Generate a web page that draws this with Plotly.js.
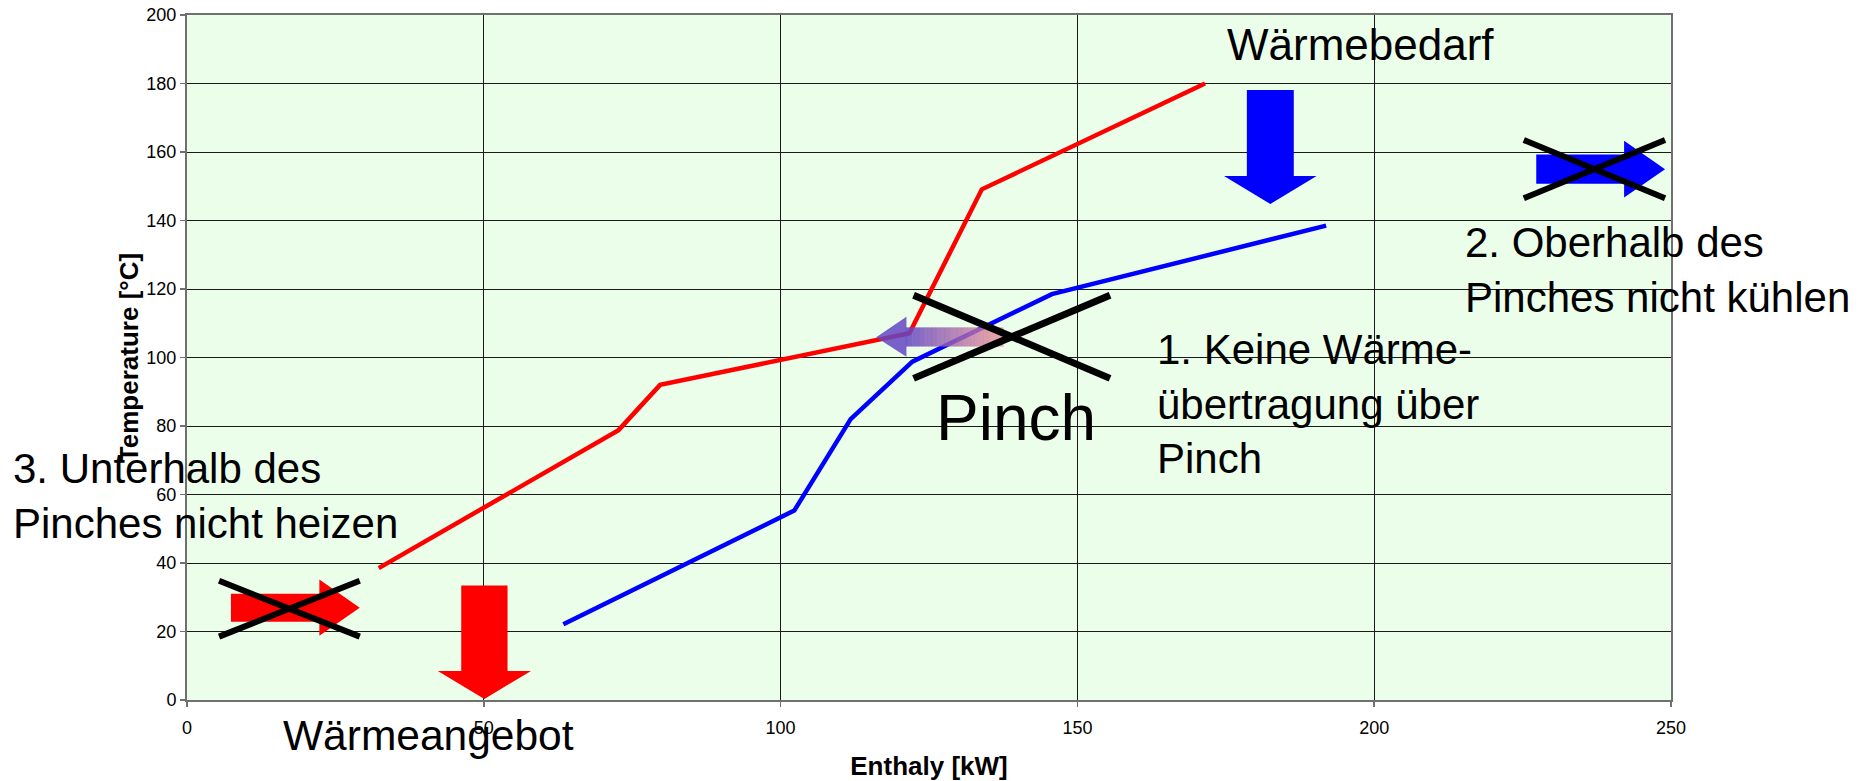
<!DOCTYPE html>
<html>
<head>
<meta charset="utf-8">
<script src="https://cdn.plot.ly/plotly-3.0.1.min.js"></script>
<style>
html,body{margin:0;padding:0;background:#fff;}
#chart{width:1862px;height:781px;}
</style>
</head>
<body>
<div id="chart"></div>
<script>
// ---- data ----
const hotEnthalpy  = [32.3, 72.7, 79.7, 121.7, 133.9, 171.5];
const hotTemp      = [38.5, 78.8, 92.0, 107.1, 149.1, 180.0];
const coldEnthalpy = [63.4, 102.3, 111.8, 122.2, 145.7, 191.9];
const coldTemp     = [22.1, 55.3, 82.0, 98.8, 118.5, 138.5];
const xTicks = [0, 50, 100, 150, 200, 250];
const yTicks = [0, 20, 40, 60, 80, 100, 120, 140, 160, 180, 200];

const FONT = 'Liberation Sans, Arial, sans-serif';

// ---- decoration helpers (annotation shapes) ----
function downArrow(xc, shaftHalf, headHalf, yTop, yShaft, yTip) {
  return `M ${xc-shaftHalf},${yTop} L ${xc+shaftHalf},${yTop} L ${xc+shaftHalf},${yShaft} L ${xc+headHalf},${yShaft} L ${xc},${yTip} L ${xc-headHalf},${yShaft} L ${xc-shaftHalf},${yShaft} Z`;
}
function rightArrow(x0, xHead, xTip, yc, shaftHalf, headHalf) {
  return `M ${x0},${yc-shaftHalf} L ${xHead},${yc-shaftHalf} L ${xHead},${yc-headHalf} L ${xTip},${yc} L ${xHead},${yc+headHalf} L ${xHead},${yc+shaftHalf} L ${x0},${yc+shaftHalf} Z`;
}
function crossLines(x0, x1, y0, y1, w) {
  return [
    {type:'line', xref:'x', yref:'y', x0:x0, y0:y1, x1:x1, y1:y0, line:{color:'#000', width:w}},
    {type:'line', xref:'x', yref:'y', x0:x0, y0:y0, x1:x1, y1:y1, line:{color:'#000', width:w}}
  ];
}

const shapes = [];
// Wärmebedarf arrow (blue, down)
shapes.push({type:'path', xref:'x', yref:'y', path: downArrow(182.5, 3.95, 7.8, 178.1, 153.0, 144.8), fillcolor:'#0000ff', line:{width:0}});
// Wärmeangebot arrow (red, down)
shapes.push({type:'path', xref:'x', yref:'y', path: downArrow(50.1, 3.9, 7.85, 33.4, 8.5, 0.3), fillcolor:'#ff0000', line:{width:0}});
// crossed red right arrow
shapes.push({type:'path', xref:'x', yref:'y', path: rightArrow(7.4, 22.3, 29.1, 26.95, 4.1, 8.2), fillcolor:'#ff0000', line:{width:0}});
// crossed blue right arrow
shapes.push({type:'path', xref:'x', yref:'y', path: rightArrow(227.3, 242.1, 249.0, 155.0, 4.25, 8.3), fillcolor:'#0000ff', line:{width:0}});

// gradient arrow at the pinch (head + shaded shaft)
const c0 = [100, 70, 195], c1 = [235, 140, 145];
shapes.push({type:'path', xref:'x', yref:'y',
  path: `M 116.1,105.9 L 121.2,111.9 L 121.2,100.2 Z`,
  fillcolor:`rgba(${c0[0]},${c0[1]},${c0[2]},0.85)`, line:{width:0}});
const nSlices = 30, sx0 = 121.1, sx1 = 137.5;
for (let i = 0; i < nSlices; i++) {
  const t = i / (nSlices - 1);
  const r = Math.round(c0[0] + (c1[0]-c0[0])*t);
  const g = Math.round(c0[1] + (c1[1]-c0[1])*t);
  const b = Math.round(c0[2] + (c1[2]-c0[2])*t);
  const a = (0.85 - 0.1*t).toFixed(3);
  const xa = sx0 + (sx1 - sx0) * i / nSlices;
  const xb = sx0 + (sx1 - sx0) * (i + 1) / nSlices + 0.05;
  shapes.push({type:'rect', xref:'x', yref:'y', x0:xa, x1:xb, y0:103.2, y1:108.8,
    fillcolor:`rgba(${r},${g},${b},${a})`, line:{width:0}});
}

// crosses
shapes.push(...crossLines(5.4, 29.1, 18.5, 34.8, 6));
shapes.push(...crossLines(225.2, 249.0, 146.5, 163.5, 6));
shapes.push(...crossLines(122.4, 155.5, 93.9, 118.2, 7));

const annFont = (s) => ({family: FONT, size: s, color: '#000'});
const annotations = [
  {xref:'x', yref:'y', x:174.9, y:191.4, xanchor:'left', yanchor:'middle', align:'left', showarrow:false, text:'Wärmebedarf', font:annFont(44)},
  {xref:'paper', yref:'paper', x:0.0635, y:-0.0525, xanchor:'left', yanchor:'middle', align:'left', showarrow:false, text:'Wärmeangebot', font:annFont(42.5)},
  {xref:'x', yref:'y', x:125.9, y:82.2, xanchor:'left', yanchor:'middle', align:'left', showarrow:false, text:'Pinch', font:annFont(64)},
  {xref:'x', yref:'y', x:163.1, y:86.5, xanchor:'left', yanchor:'middle', align:'left', showarrow:false, text:'1. Keine Wärme-<br>übertragung über<br>Pinch', font:annFont(42)},
  {xref:'x', yref:'y', x:215.0, y:125.5, xanchor:'left', yanchor:'middle', align:'left', showarrow:false, text:'2. Oberhalb des<br>Pinches nicht kühlen', font:annFont(42)},
  {xref:'paper', yref:'paper', x:-0.1186, y:0.2975, xanchor:'left', yanchor:'middle', align:'left', showarrow:false, text:'3. Unterhalb des<br>Pinches nicht heizen', font:annFont(42)}
];

const traces = [
  {x: hotEnthalpy, y: hotTemp, type:'scatter', mode:'lines', name:'hot', line:{color:'#ff0000', width:4.5}, hoverinfo:'skip'},
  {x: coldEnthalpy, y: coldTemp, type:'scatter', mode:'lines', name:'cold', line:{color:'#0000ff', width:4.5}, hoverinfo:'skip'}
];

const layout = {
  width: 1862, height: 781,
  margin: {l:187, r:191, t:15, b:81, pad:0},
  paper_bgcolor: '#ffffff',
  plot_bgcolor: '#eafeea',
  showlegend: false,
  font: {family: FONT, color:'#000'},
  xaxis: {
    range: [0, 250], tickvals: xTicks, ticktext: xTicks.map(String),
    showgrid: true, gridcolor: '#1a1a1a', gridwidth: 1,
    zeroline: false, showline: true, linecolor: '#707070', linewidth: 2, mirror: true,
    ticks: 'outside', ticklen: 5, tickcolor: '#707070', tickwidth: 1.5,
    ticklabelstandoff: 5,
    tickfont: {family: FONT, size: 18, color:'#000'},
    title: {text: '<b>Enthaly [kW]</b>', font: {family: FONT, size: 26, color:'#000'}, standoff: 20}
  },
  yaxis: {
    range: [0, 200], tickvals: yTicks, ticktext: yTicks.map(String),
    showgrid: true, gridcolor: '#1a1a1a', gridwidth: 1,
    zeroline: false, showline: true, linecolor: '#707070', linewidth: 2, mirror: true,
    ticks: 'outside', ticklen: 5, tickcolor: '#707070', tickwidth: 1.5,
    tickfont: {family: FONT, size: 18, color:'#000'},
    title: {text: '<b>Temperature [°C]</b>', font: {family: FONT, size: 26, color:'#000'}, standoff: 0}
  },
  shapes: shapes,
  annotations: annotations
};

Plotly.newPlot('chart', traces, layout, {displayModeBar:false, staticPlot:true});
</script>
</body>
</html>
